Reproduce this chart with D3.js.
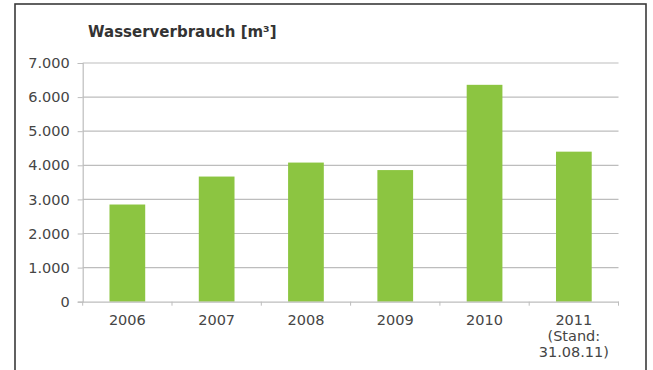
<!DOCTYPE html>
<html><head><meta charset="utf-8">
<script src="https://cdn.jsdelivr.net/npm/d3@7"></script>
<style>html,body{margin:0;padding:0;background:#fff;}svg{display:block;}</style>
</head><body>
<script>
const categories = ["2006","2007","2008","2009","2010","2011"];
const subLabels = [[],[],[],[],[],["(Stand:","31.08.11)"]];
const values = [2850, 3670, 4080, 3860, 6360, 4400];
const yTicks = [0,1000,2000,3000,4000,5000,6000,7000];
const title = "Wasserverbrauch [m³]";

(function(){
const W = 653, H = 370;
const svg = d3.select("body").append("svg").attr("width", W).attr("height", H);
svg.append("rect").attr("x",15).attr("y",4).attr("width",631).attr("height",380)
  .attr("fill","#fff").attr("stroke","#3a3a3a").attr("stroke-width",1.6);

const mLeft = 82.7, mRight = 618.5, mTop = 63, mBottom = 301.7;
const x = d3.scaleBand().domain(categories).range([mLeft,mRight]).paddingInner(0.6).paddingOuter(0.3);
const y = d3.scaleLinear().domain([0,7000]).range([mBottom,mTop]);
const fmt = v => d3.format(",")(v).replace(/,/g,".");
const font = "'DejaVu Sans', sans-serif";
const fs = 14.5;

svg.append("g").selectAll("line").data(yTicks.filter(d=>d>0)).join("line")
  .attr("x1",mLeft).attr("x2",mRight).attr("y1",d=>y(d)).attr("y2",d=>y(d))
  .attr("stroke","#bdbdbd").attr("stroke-width",1.2);

const ya = svg.append("g").attr("transform",`translate(${mLeft},0)`)
  .call(d3.axisLeft(y).tickValues(yTicks).tickFormat(fmt).tickSize(5).tickPadding(8));
ya.select(".domain").attr("stroke","#bdbdbd").attr("stroke-width",1.2);
ya.selectAll(".tick line").attr("stroke","#bdbdbd");
ya.selectAll("text").attr("font-family",font).attr("font-size",fs).attr("fill","#454545");

svg.append("g").selectAll("rect").data(values).join("rect")
  .attr("x",(d,i)=>x(categories[i])).attr("width",x.bandwidth())
  .attr("y",d=>y(d)).attr("height",d=>mBottom-y(d)).attr("fill","#8cc541");

const xa = svg.append("g").attr("transform",`translate(0,${mBottom})`)
  .call(d3.axisBottom(x).tickSize(0).tickPadding(13));
xa.select(".domain").attr("stroke","#bdbdbd").attr("stroke-width",1.2);
xa.selectAll("text").attr("font-family",font).attr("font-size",fs).attr("fill","#454545");
const bounds = d3.range(categories.length+1).map(i=>mLeft + i*x.step());
xa.selectAll(".sep").data(bounds).join("line").attr("class","sep")
  .attr("x1",d=>d).attr("x2",d=>d).attr("y1",0).attr("y2",4).attr("stroke","#bdbdbd");
xa.selectAll(".tick").each(function(d,i){
  const g = d3.select(this);
  subLabels[i].forEach((s,j)=>{
    g.append("text").attr("y",13+(j+1)*16).attr("dy","0.71em").attr("text-anchor","middle")
      .attr("font-family",font).attr("font-size",fs).attr("fill","#454545").text(s);
  });
});

svg.append("text").attr("x",88).attr("y",37).attr("font-family",font)
  .attr("font-weight","bold").attr("font-size",15).attr("fill","#333").text(title);
})();
</script>
</body></html>
